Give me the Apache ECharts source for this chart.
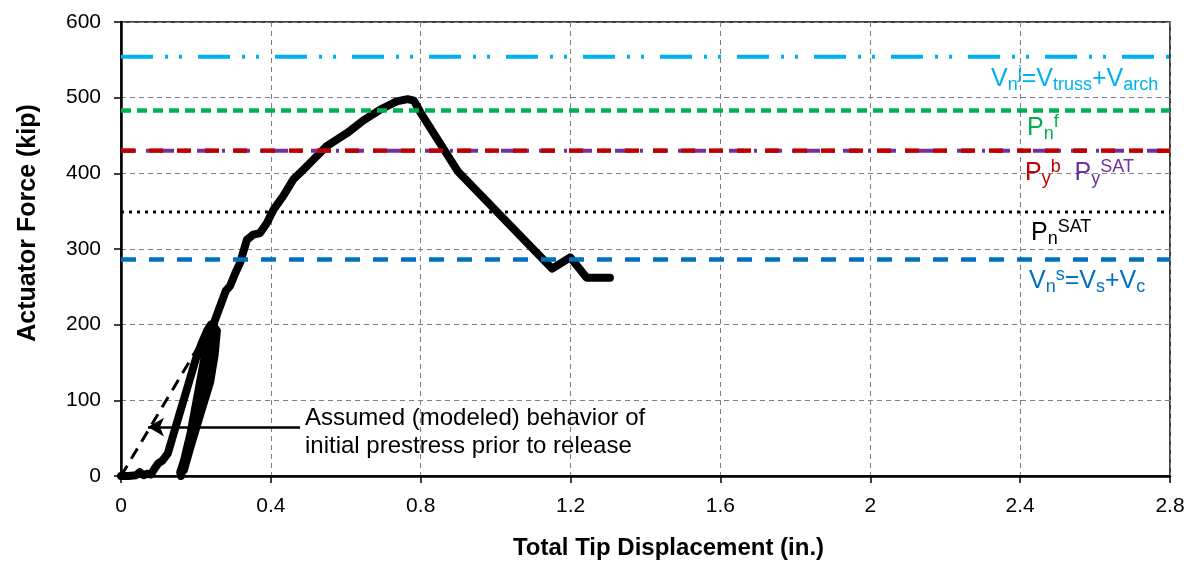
<!DOCTYPE html>
<html>
<head>
<meta charset="utf-8">
<script src="https://cdn.jsdelivr.net/npm/echarts@6/dist/echarts.min.js"></script>
<style>
  html, body { margin: 0; padding: 0; background: #fff; }
  #main { width: 1195px; height: 565px; }
</style>
</head>
<body>
<div id="main"></div>
<script>
// measured test curve (tip displacement in., actuator force kip)
var testDisp = [0, 0.02, 0.04, 0.05, 0.06, 0.07, 0.08, 0.09, 0.1, 0.11, 0.125, 0.14, 0.155, 0.17, 0.185, 0.2, 0.215, 0.23, 0.24,
    0.235, 0.225, 0.21, 0.195, 0.18, 0.168, 0.158, 0.16, 0.17, 0.185, 0.2, 0.215, 0.228, 0.245,
    0.256, 0.25, 0.238, 0.21, 0.184, 0.168, 0.175, 0.19, 0.21, 0.225, 0.238, 0.25, 0.265, 0.28,
    0.291, 0.305, 0.318, 0.336, 0.353, 0.371, 0.389, 0.407, 0.433, 0.46, 0.487, 0.513, 0.549, 0.603,
    0.647, 0.691, 0.736, 0.765, 0.782, 0.8, 0.9, 1.151, 1.199, 1.243, 1.305];
var testForce = [0, 0, 1, 5, 1, 3, 2, 10, 17, 20, 30, 55, 80, 105, 130, 155, 175, 192, 200,
    170, 140, 110, 75, 45, 20, 5, 0, 20, 55, 95, 135, 170, 200,
    192, 160, 124, 79, 36, 8, 30, 60, 100, 140, 175, 205, 225, 245,
    251, 268, 282, 312, 319, 321, 334, 352, 370, 392, 405, 418, 436, 453,
    470, 484, 495, 498, 496, 480, 402, 274, 289, 262, 262];

// assumed (modeled) initial prestress behavior
var modelDisp = [0, 0.245];
var modelForce = [0, 203];

// capacity levels (kip)
var vnj = 554;      // Vn^j = Vtruss + Varch
var pnf = 483;      // Pn^f
var pyb = 430;      // Py^b
var pySat = 430;    // Py^SAT
var pnSat = 349;    // Pn^SAT
var vns = 286;      // Vn^s = Vs + Vc

var xTicks = [0, 2.8, 0.4];
var yTicks = [0, 600, 100];

// annotation arrow
var arrowFrom = [0.478, 64.6];
var arrowTo = [0.072, 64.6];

function pairs(xs, ys){
    return xs.map(function(x, i){ return [x, ys[i]] })
}
function level(v){
    return [[xTicks[0], v], [xTicks[1], v]]
}

var chart = echarts.init(document.getElementById('main'));
var labelFont = 'Liberation Sans, Arial, sans-serif';
var big = 25, small = 18;
function richFor(color, color2){
    color2 = color2 || color
    return {
        m: { fontSize: big, lineHeight: 30, fill: color, fontFamily: labelFont },
        sub: { fontSize: small, lineHeight: 17, verticalAlign: 'bottom', fill: color, fontFamily: labelFont },
        sup: { fontSize: small, lineHeight: 17, verticalAlign: 'top', fill: color, fontFamily: labelFont },
        m2: { fontSize: big, lineHeight: 30, fill: color2, fontFamily: labelFont },
        sub2: { fontSize: small, lineHeight: 17, verticalAlign: 'bottom', fill: color2, fontFamily: labelFont },
        sup2: { fontSize: small, lineHeight: 17, verticalAlign: 'top', fill: color2, fontFamily: labelFont }
    }
}

var option = {
    animation: false,
    backgroundColor: '#fff',
    grid: {
        left: 121, right: 25, top: 22, bottom: 88,
        show: true, borderColor: '#000', borderWidth: 1.5
    },
    xAxis: {
        type: 'value',
        min: xTicks[0], max: xTicks[1], interval: xTicks[2],
        name: 'Total Tip Displacement (in.)',
        nameLocation: 'middle',
        nameGap: 60,
        nameTextStyle: { fontSize: 24, fontWeight: 'bold', color: '#000', fontFamily: labelFont, padding: [0, 0, 0, 46] },
        axisLine: { lineStyle: { color: '#000', width: 2.5 } },
        axisTick: { length: 7, lineStyle: { color: '#000', width: 1.5 } },
        axisLabel: { fontSize: 21, color: '#000', margin: 20, fontFamily: labelFont },
        splitLine: { lineStyle: { color: '#808080', width: 1, type: [5, 4] } }
    },
    yAxis: {
        type: 'value',
        min: yTicks[0], max: yTicks[1], interval: yTicks[2],
        name: 'Actuator Force (kip)',
        nameLocation: 'middle',
        nameGap: 80,
        nameTextStyle: { fontSize: 25, fontWeight: 'bold', color: '#000', fontFamily: labelFont, padding: [0, 0, 0, 52] },
        axisLine: { show: true, lineStyle: { color: '#000', width: 2.5 } },
        axisTick: { show: true, length: 7, lineStyle: { color: '#000', width: 1.5 } },
        axisLabel: { fontSize: 21, color: '#000', margin: 20, fontFamily: labelFont },
        splitLine: { lineStyle: { color: '#808080', width: 1, type: [5, 4] } }
    },
    series: [
        {
            name: 'model', type: 'line', showSymbol: false, z: 2,
            data: pairs(modelDisp, modelForce),
            lineStyle: { color: '#000', width: 3, type: [12, 8] }
        },
        {
            name: 'test', type: 'line', showSymbol: false, z: 3,
            data: pairs(testDisp, testForce),
            lineStyle: { color: '#000', width: 8, join: 'round', cap: 'round' },
            markLine: {
                silent: true,
                symbol: ['none', 'arrow'],
                symbolSize: [14, 16],
                label: { show: false },
                lineStyle: { color: '#000', width: 2.5, type: 'solid' },
                data: [[{ coord: arrowFrom }, { coord: arrowTo }]]
            }
        },
        {
            name: 'Vn^j', type: 'line', showSymbol: false, z: 5, data: level(vnj),
            lineStyle: { color: '#00B0F0', width: 4, type: [32, 12, 3, 11, 3, 16] }
        },
        {
            name: 'Pn^f', type: 'line', showSymbol: false, z: 5, data: level(pnf),
            lineStyle: { color: '#00B050', width: 4.5, type: [10, 6] }
        },
        {
            name: 'Py^SAT', type: 'line', showSymbol: false, z: 5, data: level(pySat),
            lineStyle: { color: '#7030A0', width: 4, type: [15, 10, 3, 10] }
        },
        {
            name: 'Py^b', type: 'line', showSymbol: false, z: 6, data: level(pyb),
            lineStyle: { color: '#C00000', width: 4.5, type: [14, 14] }
        },
        {
            name: 'Pn^SAT', type: 'line', showSymbol: false, z: 5, data: level(pnSat),
            lineStyle: { color: '#000', width: 3, type: [3, 5] }
        },
        {
            name: 'Vn^s', type: 'line', showSymbol: false, z: 5, data: level(vns),
            lineStyle: { color: '#0070C0', width: 4.5, type: [15, 13] }
        }
    ],
    graphic: [
        { type: 'text', left: 991, top: 64, z: 10,
          style: { text: '{m|V}{sub|n}{sup|j}{m|=V}{sub|truss}{m|+V}{sub|arch}', rich: richFor('#00B0F0') } },
        { type: 'text', left: 1027, top: 113, z: 10,
          style: { text: '{m|P}{sub|n}{sup|f}', rich: richFor('#00B050') } },
        { type: 'text', left: 1025, top: 158, z: 10,
          style: { text: '{m|P}{sub|y}{sup|b}{m|  }{m2|P}{sub2|y}{sup2|SAT}', rich: richFor('#C00000', '#7030A0') } },
        { type: 'text', left: 1031, top: 218, z: 10,
          style: { text: '{m|P}{sub|n}{sup|SAT}', rich: richFor('#000') } },
        { type: 'text', left: 1029, top: 266, z: 10,
          style: { text: '{m|V}{sub|n}{sup|s}{m|=V}{sub|s}{m|+V}{sub|c}', rich: richFor('#0070C0') } },
        { type: 'text', left: 305, top: 404, z: 10,
          style: { text: 'Assumed (modeled) behavior of\ninitial prestress prior to release',
                   fontSize: 24, lineHeight: 28, fill: '#000', fontFamily: labelFont } }
    ]
};

chart.setOption(option);
</script>
</body>
</html>
